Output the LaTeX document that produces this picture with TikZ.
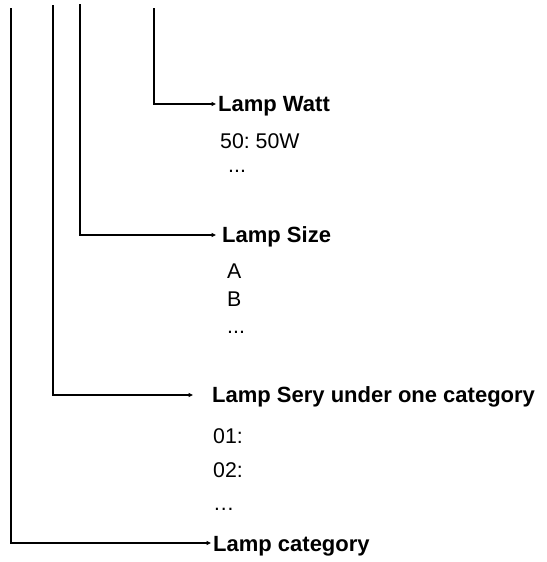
\documentclass[tikz,border=0pt]{standalone}
\usepackage{fontspec}
\setmainfont{Liberation Sans}
\usetikzlibrary{arrows.meta}
\frenchspacing
\begin{document}
\begin{tikzpicture}[x=1pt,y=-1pt,
  vline/.style={line width=2pt},
  harrow/.style={line width=1.2pt,-{Triangle[length=4.5pt,width=4pt]}},
  lbl/.style={anchor=west,inner xsep=0pt,inner ysep=0pt,text height=15.8pt,text depth=0pt,font=\fontsize{22pt}{24pt}\selectfont\bfseries},
  item/.style={anchor=base west,inner sep=0pt,font=\fontsize{21.3pt}{24pt}\selectfont}]
\useasboundingbox (0,0) rectangle (546,562);
% tops of the lines (free ends)
\coordinate (top1) at (11,8);
\coordinate (top2) at (53,5);
\coordinate (top3) at (80,4);
\coordinate (top4) at (154,8);
% corners
\coordinate (c1) at (11,543);
\coordinate (c2) at (53,395);
\coordinate (c3) at (80,235);
\coordinate (c4) at (154,104);
% arrow tips
\coordinate (t1) at (211,543);
\coordinate (t2) at (193,395);
\coordinate (t3) at (216,235);
\coordinate (t4) at (216,104);
% labels
\node[lbl] (cat) at (213,544) {Lamp category};
\node[lbl] (sery) at (212,395) {Lamp Sery under one category};
\node[lbl] (size) at (222,235) {Lamp Size};
\node[lbl] (watt) at (218,104) {Lamp Watt};
% items
\node[item] (w1) at (220,148) {50: 50W};
\node[item] (w2) at (228,172) {...};
\node[item] (s1) at (227,278) {A};
\node[item] (s2) at (227,306) {B};
\node[item] (s3) at (227,333) {...};
\node[item] (r1) at (213,443) {01:};
\node[item] (r2) at (213,477) {02:};
\node[item] (r3) at (213,510) {…};
% connectors
\draw[vline] (top1) -- (c1);
\draw[vline] (top2) -- (c2);
\draw[vline] (top3) -- (c3);
\draw[vline] (top4) -- (c4);
\draw[harrow] ([xshift=-1pt]c1) -- (t1);
\draw[harrow] ([xshift=-1pt]c2) -- (t2);
\draw[harrow] ([xshift=-1pt]c3) -- (t3);
\draw[harrow] ([xshift=-1pt]c4) -- (t4);
\end{tikzpicture}
\end{document}
